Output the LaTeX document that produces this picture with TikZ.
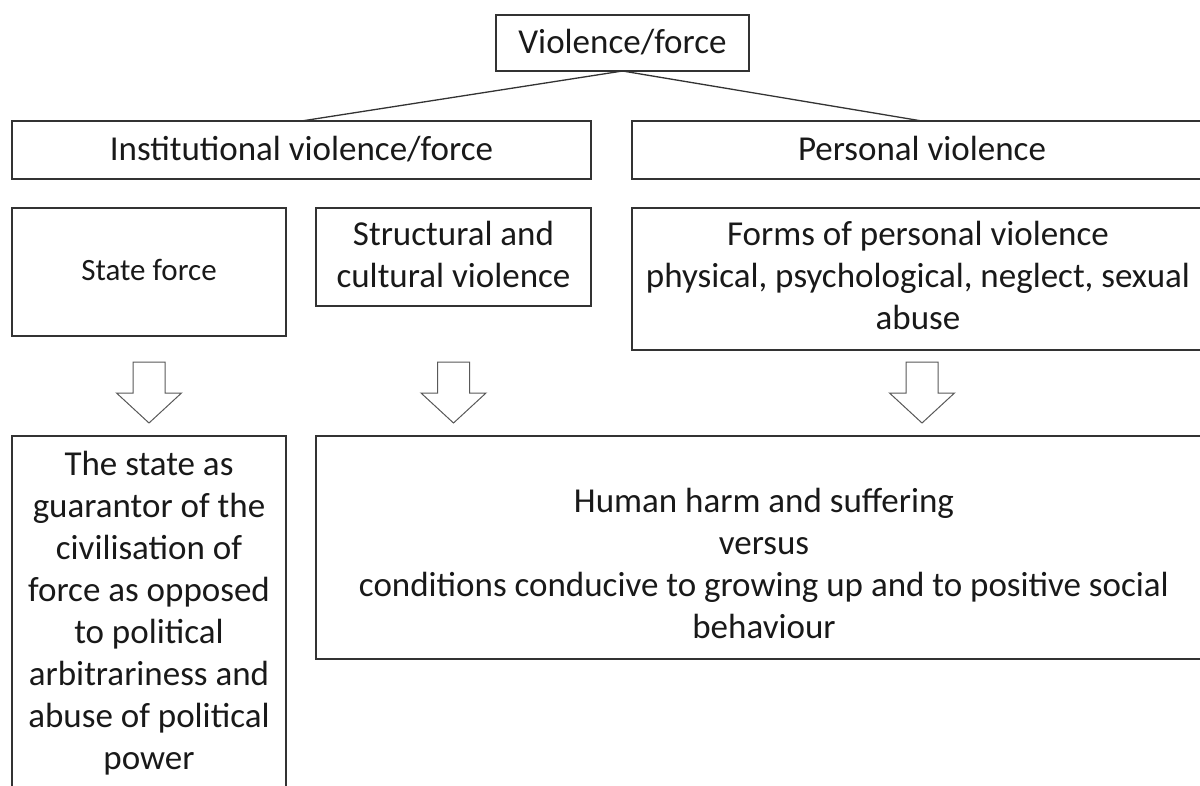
\documentclass[tikz,border=0pt]{standalone}
\usepackage{fontspec}
\setmainfont{Carlito}
\begin{document}
\begin{tikzpicture}[x=1pt,y=-1pt,
  box/.style={draw=black!80, line width=1.3pt, inner sep=0pt, outer sep=0pt, rectangle},
  conn/.style={draw=black!80, line width=1.3pt},
  txt/.style={anchor=base, align=flush center, inner sep=0pt, text=black!90, font=\fontsize{35}{42}\selectfont},
  smalltxt/.style={anchor=base, align=flush center, inner sep=0pt, text=black!90, font=\fontsize{31}{37}\selectfont},
  blockarr/.pic={\draw[draw=black!65, line width=1pt, fill=white, line join=miter]
      (-16,0) -- (16,0) -- (16,31) -- (32.5,31) -- (0,61) -- (-32.5,31) -- (-16,31) -- cycle;}
]
\useasboundingbox (0,0) rectangle (1200,785);
\begin{scope}
\clip (0,0) rectangle (1200,785);
% boxes
\node[box, minimum width=253pt, minimum height=56pt] (violence) at (622.5,43) {};
\node[box, minimum width=579pt, minimum height=58pt] (inst) at (301.5,150) {};
\node[box, minimum width=580pt, minimum height=58pt] (personal) at (922,150) {};
\node[box, minimum width=274pt, minimum height=128pt] (statef) at (149,272) {};
\node[box, minimum width=275pt, minimum height=98pt] (struct) at (453.5,257) {};
\node[box, minimum width=580pt, minimum height=142pt] (forms) at (922,279) {};
\node[box, minimum width=274pt, minimum height=364pt] (stateg) at (149,618) {};
\node[box, minimum width=896pt, minimum height=223pt] (harm) at (764,547.5) {};
% connectors
\draw[conn] (violence.south) -- (inst.north);
\draw[conn] (violence.south) -- (personal.north);
% block arrows
\coordinate (arrtop) at (0,362);
\pic at (statef.south |- arrtop) {blockarr};
\pic at (struct.south |- arrtop) {blockarr};
\pic at (forms.south |- arrtop) {blockarr};
% texts
\node[txt, text width=240pt] (violence-t) at (622.5,53) {Violence/force};
\node[txt, text width=560pt] (inst-t) at (301.5,160) {Institutional violence/force};
\node[txt, text width=560pt] (personal-t) at (922,160) {Personal violence};
\node[smalltxt, text width=260pt] (statef-t) at (149,280) {State force};
\node[txt, text width=270pt] (struct-t) at (453.5,245) {Structural and\\cultural violence};
\node[txt, text width=575pt] (forms-t) at (918,245) {Forms of personal violence\\physical, psychological, neglect, sexual\\abuse};
\node[txt, text width=880pt] (harm-t) at (764,512) {Human harm and suffering\\versus\\conditions conducive to growing up and to positive social\\behaviour};
\node[txt, text width=270pt] (stateg-t) at (149,475) {The state as\\guarantor of the\\civilisation of\\force as opposed\\to political\\arbitrariness and\\abuse of political\\power};
\end{scope}
\end{tikzpicture}
\end{document}
